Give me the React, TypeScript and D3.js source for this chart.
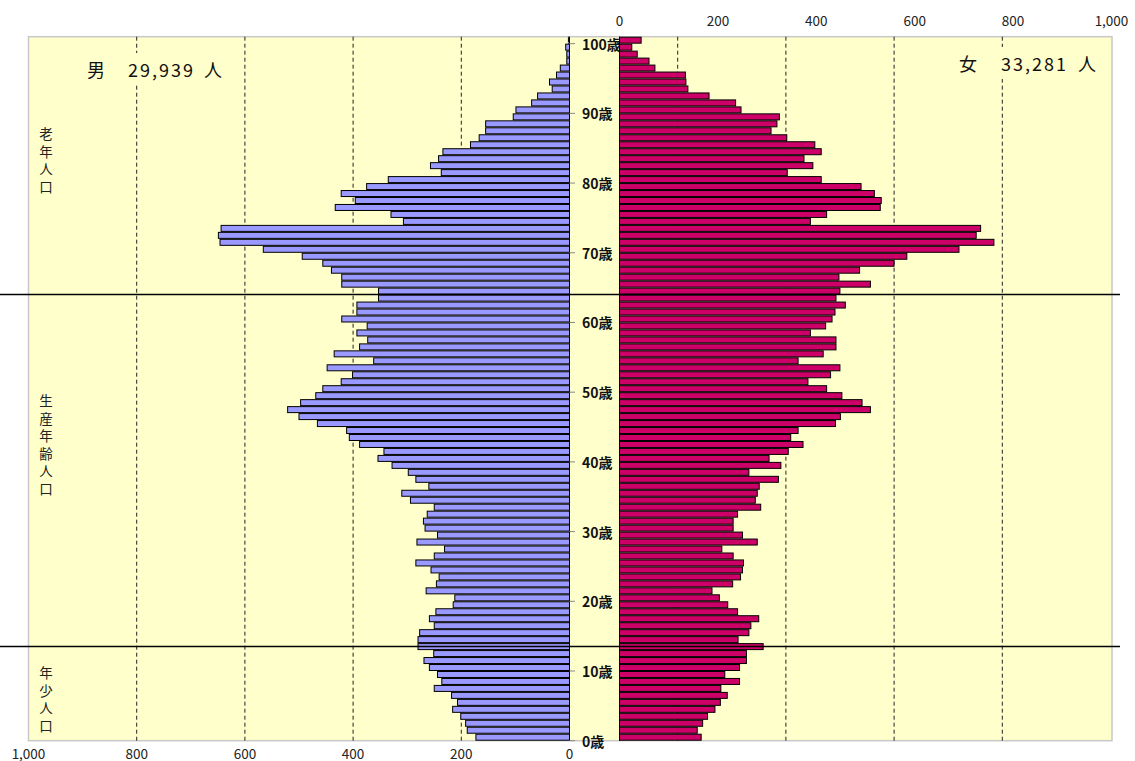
import * as d3 from 'd3'

// population by single year of age, index = age (0..100)
const maleValues = [
  173, 189, 192, 201, 216, 207, 218, 250, 236, 244,
  259, 269, 251, 280, 280, 277, 250, 259, 247, 215,
  212, 265, 246, 241, 256, 284, 250, 231, 282, 244,
  267, 270, 263, 250, 294, 310, 260, 284, 298, 328,
  354, 343, 388, 407, 412, 466, 500, 521, 497, 469,
  456, 422, 401, 448, 362, 435, 388, 373, 393, 374,
  421, 393, 393, 353, 353, 421, 421, 440, 456, 494,
  566, 646, 649, 644, 307, 330, 433, 396, 422, 375,
  335, 237, 257, 242, 234, 183, 167, 155, 155, 104,
  99, 70, 59, 32, 37, 24, 17, 5, 5, 7, 2,
]

const femaleValues = [
  166, 158, 169, 179, 194, 205, 219, 206, 244, 214,
  244, 258, 258, 292, 241, 263, 267, 283, 240, 220,
  203, 188, 230, 246, 250, 252, 231, 208, 280, 250,
  231, 231, 240, 287, 276, 280, 284, 323, 263, 328,
  304, 343, 373, 348, 363, 439, 449, 510, 493, 452,
  421, 383, 429, 448, 363, 414, 440, 440, 388, 419,
  432, 438, 459, 440, 448, 510, 446, 488, 558, 584,
  690, 761, 725, 734, 388, 421, 530, 532, 518, 491,
  410, 341, 393, 375, 410, 397, 340, 308, 320, 325,
  247, 236, 182, 139, 135, 134, 72, 60, 36, 25, 44,
]

const ages = maleValues.map((_, i) => i)
const ageTicks = [0, 10, 20, 30, 40, 50, 60, 70, 80, 90, 100]
const axisTicks = [0, 200, 400, 600, 800, 1000]
const gridTicks = [200, 400, 600, 800]
// age boundaries where the black separator lines sit
const separators = [64, 13.5]
const groupLabels = ['老年人口', '生産年齢人口', '年少人口']
const maleTotal = '29,939'
const femaleTotal = '33,281'

const FONT = "'Noto Sans CJK JP', 'Noto Sans', sans-serif"
const BG = '#ffffcc'

const App = () => {
  const width = 1135
  const height = 761
  const plot = { left: 28.5, top: 36.7, right: 1112, bottom: 740.7 }

  // category axis (ages), top = 100
  const y = d3
    .scaleBand<number>()
    .domain([...ages].reverse())
    .range([plot.top, plot.bottom])
    .paddingInner(0.14)
    .paddingOuter(0.07)
  const ageLin = d3.scaleLinear().domain([0, 101]).range([plot.bottom, plot.top])

  const xM = d3.scaleLinear().domain([0, 1000]).range([569.5, 28.5])
  const xF = d3.scaleLinear().domain([0, 1000]).range([619.5, 1111.5])
  // right-hand gridlines mirror the male scale (as in the original)
  const xGR = d3.scaleLinear().domain([0, 1000]).range([569.5, 1110.5])
  const fmt = d3.format(',')

  const groupStarts = [133, 400, 672] // first char of each vertical label

  return (
    <svg
      width={width}
      height={height}
      style={{ position: 'absolute', left: 0, top: 0, fontFamily: FONT }}
    >
      <rect x={0} y={0} width={width} height={height} fill='#fff' />
      <rect
        x={plot.left}
        y={plot.top}
        width={plot.right - plot.left}
        height={plot.bottom - plot.top}
        fill={BG}
        stroke='#c8c8c8'
        strokeWidth={1.5}
      />

      {/* dashed gridlines */}
      {gridTicks.map((v) => (
        <g key={'g' + v} stroke='#222' strokeWidth={1} strokeDasharray='4,3'>
          <line x1={xM(v)} x2={xM(v)} y1={plot.top} y2={plot.bottom} />
          <line x1={xGR(v)} x2={xGR(v)} y1={plot.top} y2={plot.bottom} />
        </g>
      ))}

      {/* title boxes */}
      <rect x={80} y={53} width={152} height={32} fill={BG} />
      <rect x={950} y={47} width={152} height={32} fill={BG} />
      <g fontSize={18} fill='#111' dominantBaseline='central'>
        <text x={87} y={69}>男</text>
        <text x={128} y={69} textLength={65} lengthAdjust='spacing'>{maleTotal}</text>
        <text x={204} y={69}>人</text>
        <text x={959} y={63}>女</text>
        <text x={1001} y={63} textLength={65} lengthAdjust='spacing'>{femaleTotal}</text>
        <text x={1078} y={63}>人</text>
      </g>

      {/* male axis */}
      <line x1={569.5} x2={569.5} y1={plot.top} y2={plot.bottom} stroke='#888' />

      {/* male bars */}
      {ages.map((a) => (
        <rect
          key={'m' + a}
          x={xM(maleValues[a])}
          y={y(a)}
          width={xM(0) - xM(maleValues[a])}
          height={y.bandwidth()}
          fill='#9999ff'
          stroke='#000'
          strokeWidth={1}
        />
      ))}

      {/* age labels */}
      {ageTicks.map((a) => (
        <g key={'t' + a}>
          <line x1={569.5} x2={575} y1={ageLin(a)} y2={ageLin(a)} stroke='#888' />
          <text
            x={582}
            y={ageLin(a)}
            dominantBaseline='central'
            fontSize={14}
            fontWeight='bold'
            fill='#111'
          >
            {a}歳
          </text>
        </g>
      ))}

      {/* female bars */}
      {ages.map((a) => (
        <rect
          key={'f' + a}
          x={xF(0)}
          y={y(a)}
          width={xF(femaleValues[a]) - xF(0)}
          height={y.bandwidth()}
          fill='#cc0066'
          stroke='#000'
          strokeWidth={1}
        />
      ))}
      <line x1={xF(0)} x2={xF(0)} y1={plot.top} y2={plot.bottom} stroke='#000' />

      {/* age group separators */}
      {separators.map((s) => (
        <line
          key={'s' + s}
          x1={0}
          x2={1120}
          y1={ageLin(s)}
          y2={ageLin(s)}
          stroke='#000'
          strokeWidth={1.5}
        />
      ))}

      {/* vertical group labels */}
      {groupLabels.map((label, i) =>
        Array.from(label).map((ch, j) => (
          <text
            key={label + j}
            x={46}
            y={groupStarts[i] + j * 17.6}
            textAnchor='middle'
            dominantBaseline='central'
            fontSize={13.5}
            fill='#222'
          >
            {ch}
          </text>
        ))
      )}

      {/* value axes */}
      {axisTicks.map((v) => (
        <text
          key={'b' + v}
          x={xM(v)}
          y={753}
          textAnchor='middle'
          dominantBaseline='central'
          fontSize={13.5}
          fill='#222'
        >
          {fmt(v)}
        </text>
      ))}
      {axisTicks.map((v) => (
        <text
          key={'u' + v}
          x={xF(v)}
          y={20}
          textAnchor='middle'
          dominantBaseline='central'
          fontSize={13.5}
          fill='#222'
        >
          {fmt(v)}
        </text>
      ))}
    </svg>
  )
}

export default App
